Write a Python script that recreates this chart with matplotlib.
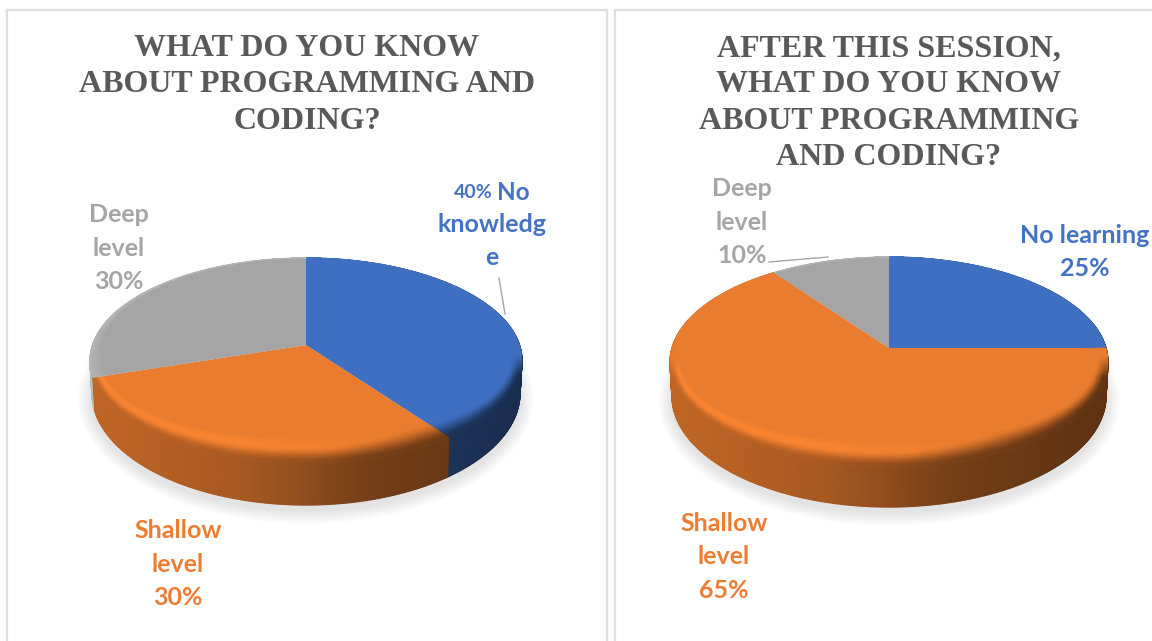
import numpy as np
import matplotlib
matplotlib.use('Agg')
import matplotlib.pyplot as plt
from matplotlib.collections import PolyCollection
from matplotlib.colors import to_rgb
from matplotlib.patches import Ellipse

# share of answers per category, clockwise from 12 o'clock
before_values = [40, 30, 30]
after_values = [25, 65, 10]
categories_before = ['No knowledge', 'Shallow level', 'Deep level']
categories_after = ['No learning', 'Shallow level', 'Deep level']
slice_colors = ['#3F6FC1', '#E97C2E', '#A5A5A5']
text_colors = ['#4472C4', '#ED7D31', '#A5A5A5']

title_before = 'WHAT DO YOU KNOW\nABOUT PROGRAMMING AND\nCODING?'
title_after = 'AFTER THIS SESSION,\nWHAT DO YOU KNOW\nABOUT PROGRAMMING\nAND CODING?'

plt.rcParams['font.family'] = ['Lato', 'DejaVu Sans']

fig = plt.figure(figsize=(11.52, 6.41), dpi=100)
ax = fig.add_axes([0, 0, 1, 1])
ax.set_xlim(0, 1152)
ax.set_ylim(641, 0)
ax.axis('off')


def rim(angle, tilt):
    # point on the unit circle, moved so the apex sits off centre (perspective)
    x = np.sin(angle)
    y = np.cos(angle)
    w = 1 + tilt * y
    return x * np.sqrt(1 - tilt ** 2) / w, (y + tilt) / w


def wall_shade(x):
    return np.interp(x, [-1, -0.3, 0.3, 1], [0.82, 0.72, 0.5, 0.4])


def smooth(t):
    t = np.clip(t, 0, 1)
    return t * t * (3 - 2 * t)


def draw_pie(values, cx, cy, rx, ry, tilt, cy2, rx2, ry2):
    bounds = np.radians(np.cumsum([0] + values) / sum(values) * 360)
    apex = (cx, cy - ry * tilt)

    # soft shadow below the pie
    for i in range(14):
        grow = 14 - i
        ax.add_patch(Ellipse((cx, cy2 + 5), 2 * (rx2 + grow), 2 * (ry2 + grow),
                             color='#8A8F9C', alpha=0.016, lw=0, zorder=1))

    # side wall, one small quad per step
    quads, cols = [], []
    for i in [2, 0, 1]:
        angles = np.arange(bounds[i], bounds[i + 1], np.radians(0.6))
        angles = np.append(angles, bounds[i + 1])
        base = np.array(to_rgb(slice_colors[i]))
        for a, b in zip(angles[:-1], angles[1:]):
            xa, ya = rim(a, tilt)
            xb, yb = rim(b, tilt)
            quads.append([(cx + rx * xa, cy - ry * ya), (cx + rx * xb, cy - ry * yb),
                          (cx + rx2 * xb, cy2 - ry2 * yb), (cx + rx2 * xa, cy2 - ry2 * ya)])
            shade = 1.12 if i == 2 else wall_shade((xa + xb) / 2)
            cols.append(np.clip(base * shade, 0, 1))
    ax.add_collection(PolyCollection(quads, facecolors=cols, edgecolors=cols, linewidths=0.9, zorder=2))

    # flat top of each slice
    for i in range(len(values)):
        angles = np.arange(bounds[i], bounds[i + 1], np.radians(1))
        angles = np.append(angles, bounds[i + 1])
        xs, ys = rim(angles, tilt)
        ax.fill(np.r_[apex[0], cx + rx * xs], np.r_[apex[1], cy - ry * ys],
                color=slice_colors[i], lw=0, zorder=3)

    # rounded edge between top and wall, inner end stays on the slice's radius
    quads, cols = [], []
    steps = np.linspace(0, 1, 15)
    for i in range(len(values)):
        angles = np.arange(bounds[i], bounds[i + 1], np.radians(1))
        angles = np.append(angles, bounds[i + 1])
        base = np.array(to_rgb(slice_colors[i]))
        for a, b in zip(angles[:-1], angles[1:]):
            xa, ya = rim(a, tilt)
            xb, yb = rim(b, tilt)
            xm, ym = (xa + xb) / 2, (ya + yb) / 2
            for t0, t1 in zip(steps[:-1], steps[1:]):
                pts = []
                for t, x, y in [(t0, xa, ya), (t0, xb, yb), (t1, xb, yb), (t1, xa, ya)]:
                    w = 0.055 * np.clip(1 - y, 0, 1) + 0.165 * np.clip(-y, 0, 1) ** 2
                    ox, oy = cx + rx * x, cy - ry * y
                    k = 1 - w * (1 - t)
                    pts.append((apex[0] + k * (ox - apex[0]), apex[1] + k * (oy - apex[1])))
                t = (t0 + t1) / 2
                fade = np.clip((0.05 - ym) / 0.2, 0, 1)
                lit = 0.07 * np.clip(0.6 - xm, 0, 1) * np.sin(np.pi * min(t / 0.8, 1))
                # the dark ramp starts earlier towards the right side
                start = np.interp(xm, [0.1, 0.6], [0.4, 0.0])
                s = smooth((t - start) / (1 - start))
                f = (1 - s) * (1 + lit) + s * wall_shade(xm)
                if i == 2:
                    f = 1 + 0.1 * t
                else:
                    f = 1 + (f - 1) * fade
                quads.append(pts)
                cols.append(np.clip(base * f, 0, 1))
    ax.add_collection(PolyCollection(quads, facecolors=cols, edgecolors=cols, linewidths=0.4, zorder=4))


draw_pie(before_values, 306, 360.5, 216, 102.5, 0.15, 393, 214, 112)
draw_pie(after_values, 889, 362, 219, 105, 0.133, 396, 217, 111)

# panel borders
border = '#DEDEDE'
ax.plot([7, 7], [641, 10], color=border, lw=1.6, zorder=0)
ax.plot([7, 607], [10, 10], color=border, lw=1.6, zorder=0)
ax.plot([607, 607], [10, 641], color=border, lw=1.6, zorder=0)
ax.plot([615, 615], [641, 10], color=border, lw=1.6, zorder=0)
ax.plot([615, 1152], [10, 10], color=border, lw=1.6, zorder=0)

# titles
ax.text(307, 85, title_before, ha='center', va='center', family='Liberation Serif', weight='bold',
        fontsize=23, color='#595959', linespacing=1.33)
ax.text(889, 103, title_after, ha='center', va='center', family='Liberation Serif', weight='bold',
        fontsize=23, color='#595959', linespacing=1.33)

# data labels
label = dict(ha='center', va='center', weight='bold', fontsize=18, linespacing=1.56)
ax.text(497, 192, categories_before[0][:2], color=text_colors[0], ha='left', va='center', weight='bold', fontsize=17.5)
ax.text(493, 193, '%d%%' % before_values[0], color=text_colors[0], ha='right', va='center', weight='bold', fontsize=14)
ax.text(492, 241, 'knowledg\ne', color=text_colors[0], **label)
ax.text(178, 564, 'Shallow\nlevel\n%d%%' % before_values[1], color=text_colors[1], **label)
ax.text(119, 248, 'Deep\nlevel\n%d%%' % before_values[2], color=text_colors[2], **label)

ax.text(1085, 252, '%s\n%d%%' % (categories_after[0], after_values[0]), color=text_colors[0], **label)
ax.text(724, 557, 'Shallow\nlevel\n%d%%' % after_values[1], color=text_colors[1], **label)
ax.text(742, 222, 'Deep\nlevel\n%d%%' % after_values[2], color=text_colors[2], **label)

# leader lines
ax.plot([499, 505], [278, 314], color='#A6A6A6', lw=1, zorder=5)
ax.plot([769, 828], [262, 257], color='#A6A6A6', lw=1, zorder=5)

fig.savefig('out.png', dpi=100)
